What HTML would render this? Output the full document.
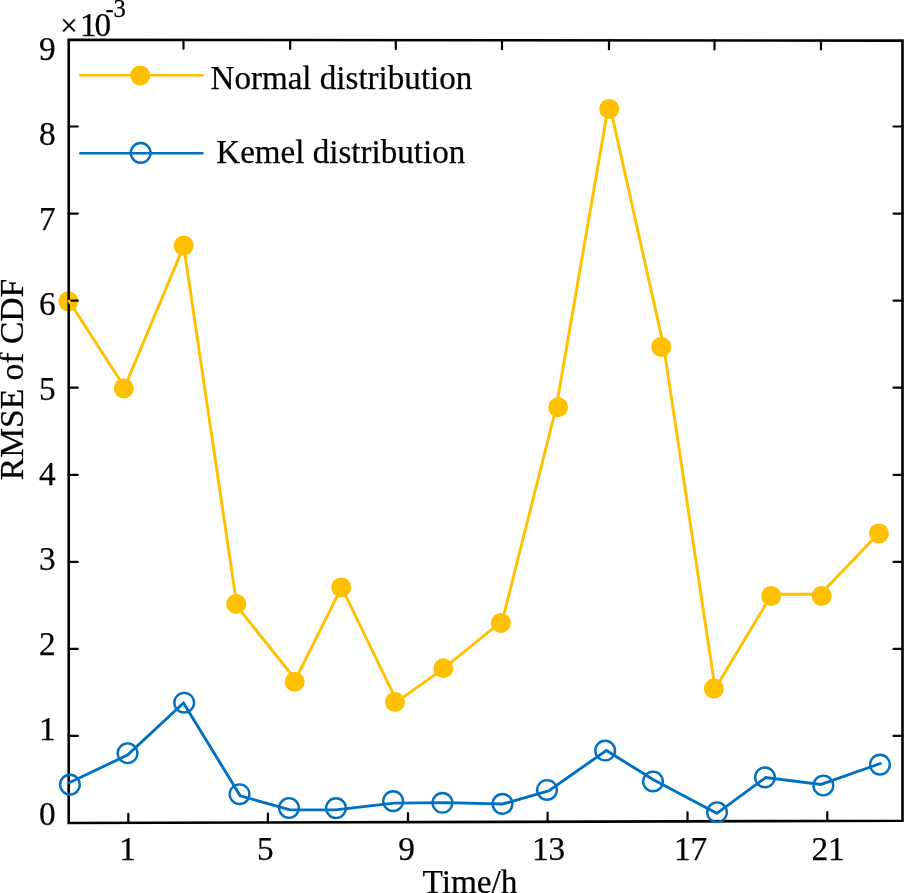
<!DOCTYPE html>
<html><head><meta charset="utf-8"><style>
html,body{margin:0;padding:0;background:#fff;width:904px;height:893px;overflow:hidden}
svg{position:absolute;left:0;top:0;display:block;will-change:transform}
text{font-family:"Liberation Serif",serif;font-size:33.3px;fill:#000;stroke:#000;stroke-width:0.25px}
</style></head><body>
<svg width="904" height="893" viewBox="0 0 904 893">
<circle cx="68.35" cy="301.35" r="10" fill="#FFC000"/>
<circle cx="123.8" cy="388.4" r="10" fill="#FFC000"/>
<circle cx="183.65" cy="245.6" r="10" fill="#FFC000"/>
<circle cx="236.2" cy="603.9" r="10" fill="#FFC000"/>
<circle cx="294.7" cy="681.7" r="10" fill="#FFC000"/>
<circle cx="341.2" cy="587.4" r="10" fill="#FFC000"/>
<circle cx="395.0" cy="701.9" r="10" fill="#FFC000"/>
<circle cx="443.4" cy="668.2" r="10" fill="#FFC000"/>
<circle cx="500.9" cy="622.9" r="10" fill="#FFC000"/>
<circle cx="558.1" cy="407.2" r="10" fill="#FFC000"/>
<circle cx="609.25" cy="108.9" r="10" fill="#FFC000"/>
<circle cx="661.25" cy="346.9" r="10" fill="#FFC000"/>
<circle cx="713.9" cy="688.6" r="10" fill="#FFC000"/>
<circle cx="771.2" cy="595.9" r="10" fill="#FFC000"/>
<circle cx="821.7" cy="595.9" r="10" fill="#FFC000"/>
<circle cx="878.9" cy="533.4" r="10" fill="#FFC000"/>
<path d="M68.7,39.75 L902.5,40.6 L902.5,820.8 L68.7,823.0 Z" fill="none" stroke="#000" stroke-width="2.6" stroke-linejoin="miter"/>
<line x1="68.7" y1="735.9" x2="77.8" y2="735.9" stroke="#000" stroke-width="2.2" stroke-linecap="round"/>
<line x1="902.5" y1="735.9" x2="893.5" y2="735.9" stroke="#000" stroke-width="2.2" stroke-linecap="round"/>
<line x1="68.7" y1="648.9" x2="77.8" y2="648.9" stroke="#000" stroke-width="2.2" stroke-linecap="round"/>
<line x1="902.5" y1="648.9" x2="893.5" y2="648.9" stroke="#000" stroke-width="2.2" stroke-linecap="round"/>
<line x1="68.7" y1="561.8" x2="77.8" y2="561.8" stroke="#000" stroke-width="2.2" stroke-linecap="round"/>
<line x1="902.5" y1="561.8" x2="893.5" y2="561.8" stroke="#000" stroke-width="2.2" stroke-linecap="round"/>
<line x1="68.7" y1="474.8" x2="77.8" y2="474.8" stroke="#000" stroke-width="2.2" stroke-linecap="round"/>
<line x1="902.5" y1="474.8" x2="893.5" y2="474.8" stroke="#000" stroke-width="2.2" stroke-linecap="round"/>
<line x1="68.7" y1="387.7" x2="77.8" y2="387.7" stroke="#000" stroke-width="2.2" stroke-linecap="round"/>
<line x1="902.5" y1="387.7" x2="893.5" y2="387.7" stroke="#000" stroke-width="2.2" stroke-linecap="round"/>
<line x1="68.7" y1="300.6" x2="77.8" y2="300.6" stroke="#000" stroke-width="2.2" stroke-linecap="round"/>
<line x1="902.5" y1="300.6" x2="893.5" y2="300.6" stroke="#000" stroke-width="2.2" stroke-linecap="round"/>
<line x1="68.7" y1="213.6" x2="77.8" y2="213.6" stroke="#000" stroke-width="2.2" stroke-linecap="round"/>
<line x1="902.5" y1="213.6" x2="893.5" y2="213.6" stroke="#000" stroke-width="2.2" stroke-linecap="round"/>
<line x1="68.7" y1="126.5" x2="77.8" y2="126.5" stroke="#000" stroke-width="2.2" stroke-linecap="round"/>
<line x1="902.5" y1="126.5" x2="893.5" y2="126.5" stroke="#000" stroke-width="2.2" stroke-linecap="round"/>
<line x1="128.3" y1="822.8" x2="128.3" y2="813.8" stroke="#000" stroke-width="2.2" stroke-linecap="round"/>
<line x1="267.9" y1="822.5" x2="267.9" y2="813.5" stroke="#000" stroke-width="2.2" stroke-linecap="round"/>
<line x1="408.0" y1="822.1" x2="408.0" y2="813.1" stroke="#000" stroke-width="2.2" stroke-linecap="round"/>
<line x1="547.6" y1="821.7" x2="547.6" y2="812.7" stroke="#000" stroke-width="2.2" stroke-linecap="round"/>
<line x1="687.5" y1="821.4" x2="687.5" y2="812.4" stroke="#000" stroke-width="2.2" stroke-linecap="round"/>
<line x1="827.3" y1="821.0" x2="827.3" y2="812.0" stroke="#000" stroke-width="2.2" stroke-linecap="round"/>
<line x1="183.5" y1="39.87" x2="183.5" y2="48.87" stroke="#000" stroke-width="2.2" stroke-linecap="round"/>
<line x1="290.2" y1="39.98" x2="290.2" y2="48.98" stroke="#000" stroke-width="2.2" stroke-linecap="round"/>
<line x1="395.8" y1="40.08" x2="395.8" y2="49.08" stroke="#000" stroke-width="2.2" stroke-linecap="round"/>
<line x1="502.0" y1="40.19" x2="502.0" y2="49.19" stroke="#000" stroke-width="2.2" stroke-linecap="round"/>
<line x1="609.0" y1="40.30" x2="609.0" y2="49.30" stroke="#000" stroke-width="2.2" stroke-linecap="round"/>
<line x1="714.5" y1="40.41" x2="714.5" y2="49.41" stroke="#000" stroke-width="2.2" stroke-linecap="round"/>
<line x1="821.0" y1="40.52" x2="821.0" y2="49.52" stroke="#000" stroke-width="2.2" stroke-linecap="round"/>
<polyline points="69.00,301.00 124.60,387.30 183.70,246.10 237.00,606.40 295.50,679.50 341.60,587.20 397.00,701.60 443.40,668.70 502.30,620.80 556.25,407.20 609.00,101.90 663.80,346.90 715.10,688.70 771.80,594.20 820.30,594.20 878.60,533.50" fill="none" stroke="#FFC000" stroke-width="2.9" stroke-linejoin="miter" stroke-miterlimit="3" stroke-linecap="round"/>
<polyline points="69.20,782.80 127.50,755.00 183.50,702.90 240.20,795.80 290.00,809.90 335.40,809.90 394.00,803.10 445.00,802.60 502.50,804.00 548.60,791.00 606.40,750.40 652.60,779.30 716.80,813.30 765.80,777.50 820.90,784.40 880.30,763.50" fill="none" stroke="#0070C0" stroke-width="2.9" stroke-linejoin="miter" stroke-miterlimit="3" stroke-linecap="round"/>
<circle cx="69.95" cy="784.6" r="9.85" fill="none" stroke="#0070C0" stroke-width="2.4"/>
<circle cx="127.55" cy="753.25" r="9.85" fill="none" stroke="#0070C0" stroke-width="2.4"/>
<circle cx="184.2" cy="702.7" r="9.85" fill="none" stroke="#0070C0" stroke-width="2.4"/>
<circle cx="239.55" cy="794.2" r="9.85" fill="none" stroke="#0070C0" stroke-width="2.4"/>
<circle cx="289.0" cy="808.0" r="9.85" fill="none" stroke="#0070C0" stroke-width="2.4"/>
<circle cx="336.0" cy="808.1" r="9.85" fill="none" stroke="#0070C0" stroke-width="2.4"/>
<circle cx="393.15" cy="801.15" r="9.85" fill="none" stroke="#0070C0" stroke-width="2.4"/>
<circle cx="442.45" cy="802.8" r="9.85" fill="none" stroke="#0070C0" stroke-width="2.4"/>
<circle cx="502.5" cy="803.9" r="9.85" fill="none" stroke="#0070C0" stroke-width="2.4"/>
<circle cx="547.05" cy="789.95" r="9.85" fill="none" stroke="#0070C0" stroke-width="2.4"/>
<circle cx="605.15" cy="750.55" r="9.85" fill="none" stroke="#0070C0" stroke-width="2.4"/>
<circle cx="653.0" cy="781.45" r="9.85" fill="none" stroke="#0070C0" stroke-width="2.4"/>
<circle cx="717.05" cy="812.25" r="9.85" fill="none" stroke="#0070C0" stroke-width="2.4"/>
<circle cx="764.95" cy="777.35" r="9.85" fill="none" stroke="#0070C0" stroke-width="2.4"/>
<circle cx="823.35" cy="785.5" r="9.85" fill="none" stroke="#0070C0" stroke-width="2.4"/>
<circle cx="879.95" cy="764.6" r="9.85" fill="none" stroke="#0070C0" stroke-width="2.4"/>
<line x1="80.3" y1="75.25" x2="202.4" y2="75.25" stroke="#FFC000" stroke-width="2.6" stroke-linecap="round"/>
<circle cx="140.3" cy="75.5" r="10" fill="#FFC000"/>
<line x1="80.3" y1="153.25" x2="202.4" y2="153.25" stroke="#0070C0" stroke-width="2.5" stroke-linecap="round"/>
<circle cx="140.7" cy="152.9" r="9.85" fill="none" stroke="#0070C0" stroke-width="2.4"/>
<text x="55.6" y="825.4" text-anchor="end">0</text>
<text x="55.6" y="740.4" text-anchor="end">1</text>
<text x="55.6" y="655.3" text-anchor="end">2</text>
<text x="55.6" y="570.3" text-anchor="end">3</text>
<text x="55.6" y="485.2" text-anchor="end">4</text>
<text x="55.6" y="400.2" text-anchor="end">5</text>
<text x="55.6" y="315.2" text-anchor="end">6</text>
<text x="55.6" y="230.1" text-anchor="end">7</text>
<text x="55.6" y="145.1" text-anchor="end">8</text>
<text x="55.6" y="60.0" text-anchor="end">9</text>
<text x="127.5" y="860.3" text-anchor="middle">1</text>
<text x="265.3" y="860.3" text-anchor="middle">5</text>
<text x="406.6" y="860.3" text-anchor="middle">9</text>
<text x="548.6" y="860.3" text-anchor="middle">13</text>
<text x="690.6" y="860.3" text-anchor="middle">17</text>
<text x="828.1" y="860.3" text-anchor="middle">21</text>
<text x="470" y="892.7" text-anchor="middle">Time/h</text>
<text transform="translate(23.0,379.5) rotate(-90)" text-anchor="middle" style="font-size:33.55px">RMSE of CDF</text>
<text x="210.5" y="89.4" style="font-size:33.1px">Normal distribution</text>
<text x="216.3" y="163.3" style="font-size:33.1px">Kemel distribution</text>
<text x="60.3" y="36.2" style="font-size:31px">×</text>
<text x="80" y="36.2">1</text>
<text x="94.6" y="36.2">0</text>
<text x="105.4" y="16.7" style="font-size:24.5px">-3</text>
</svg>
</body></html>
